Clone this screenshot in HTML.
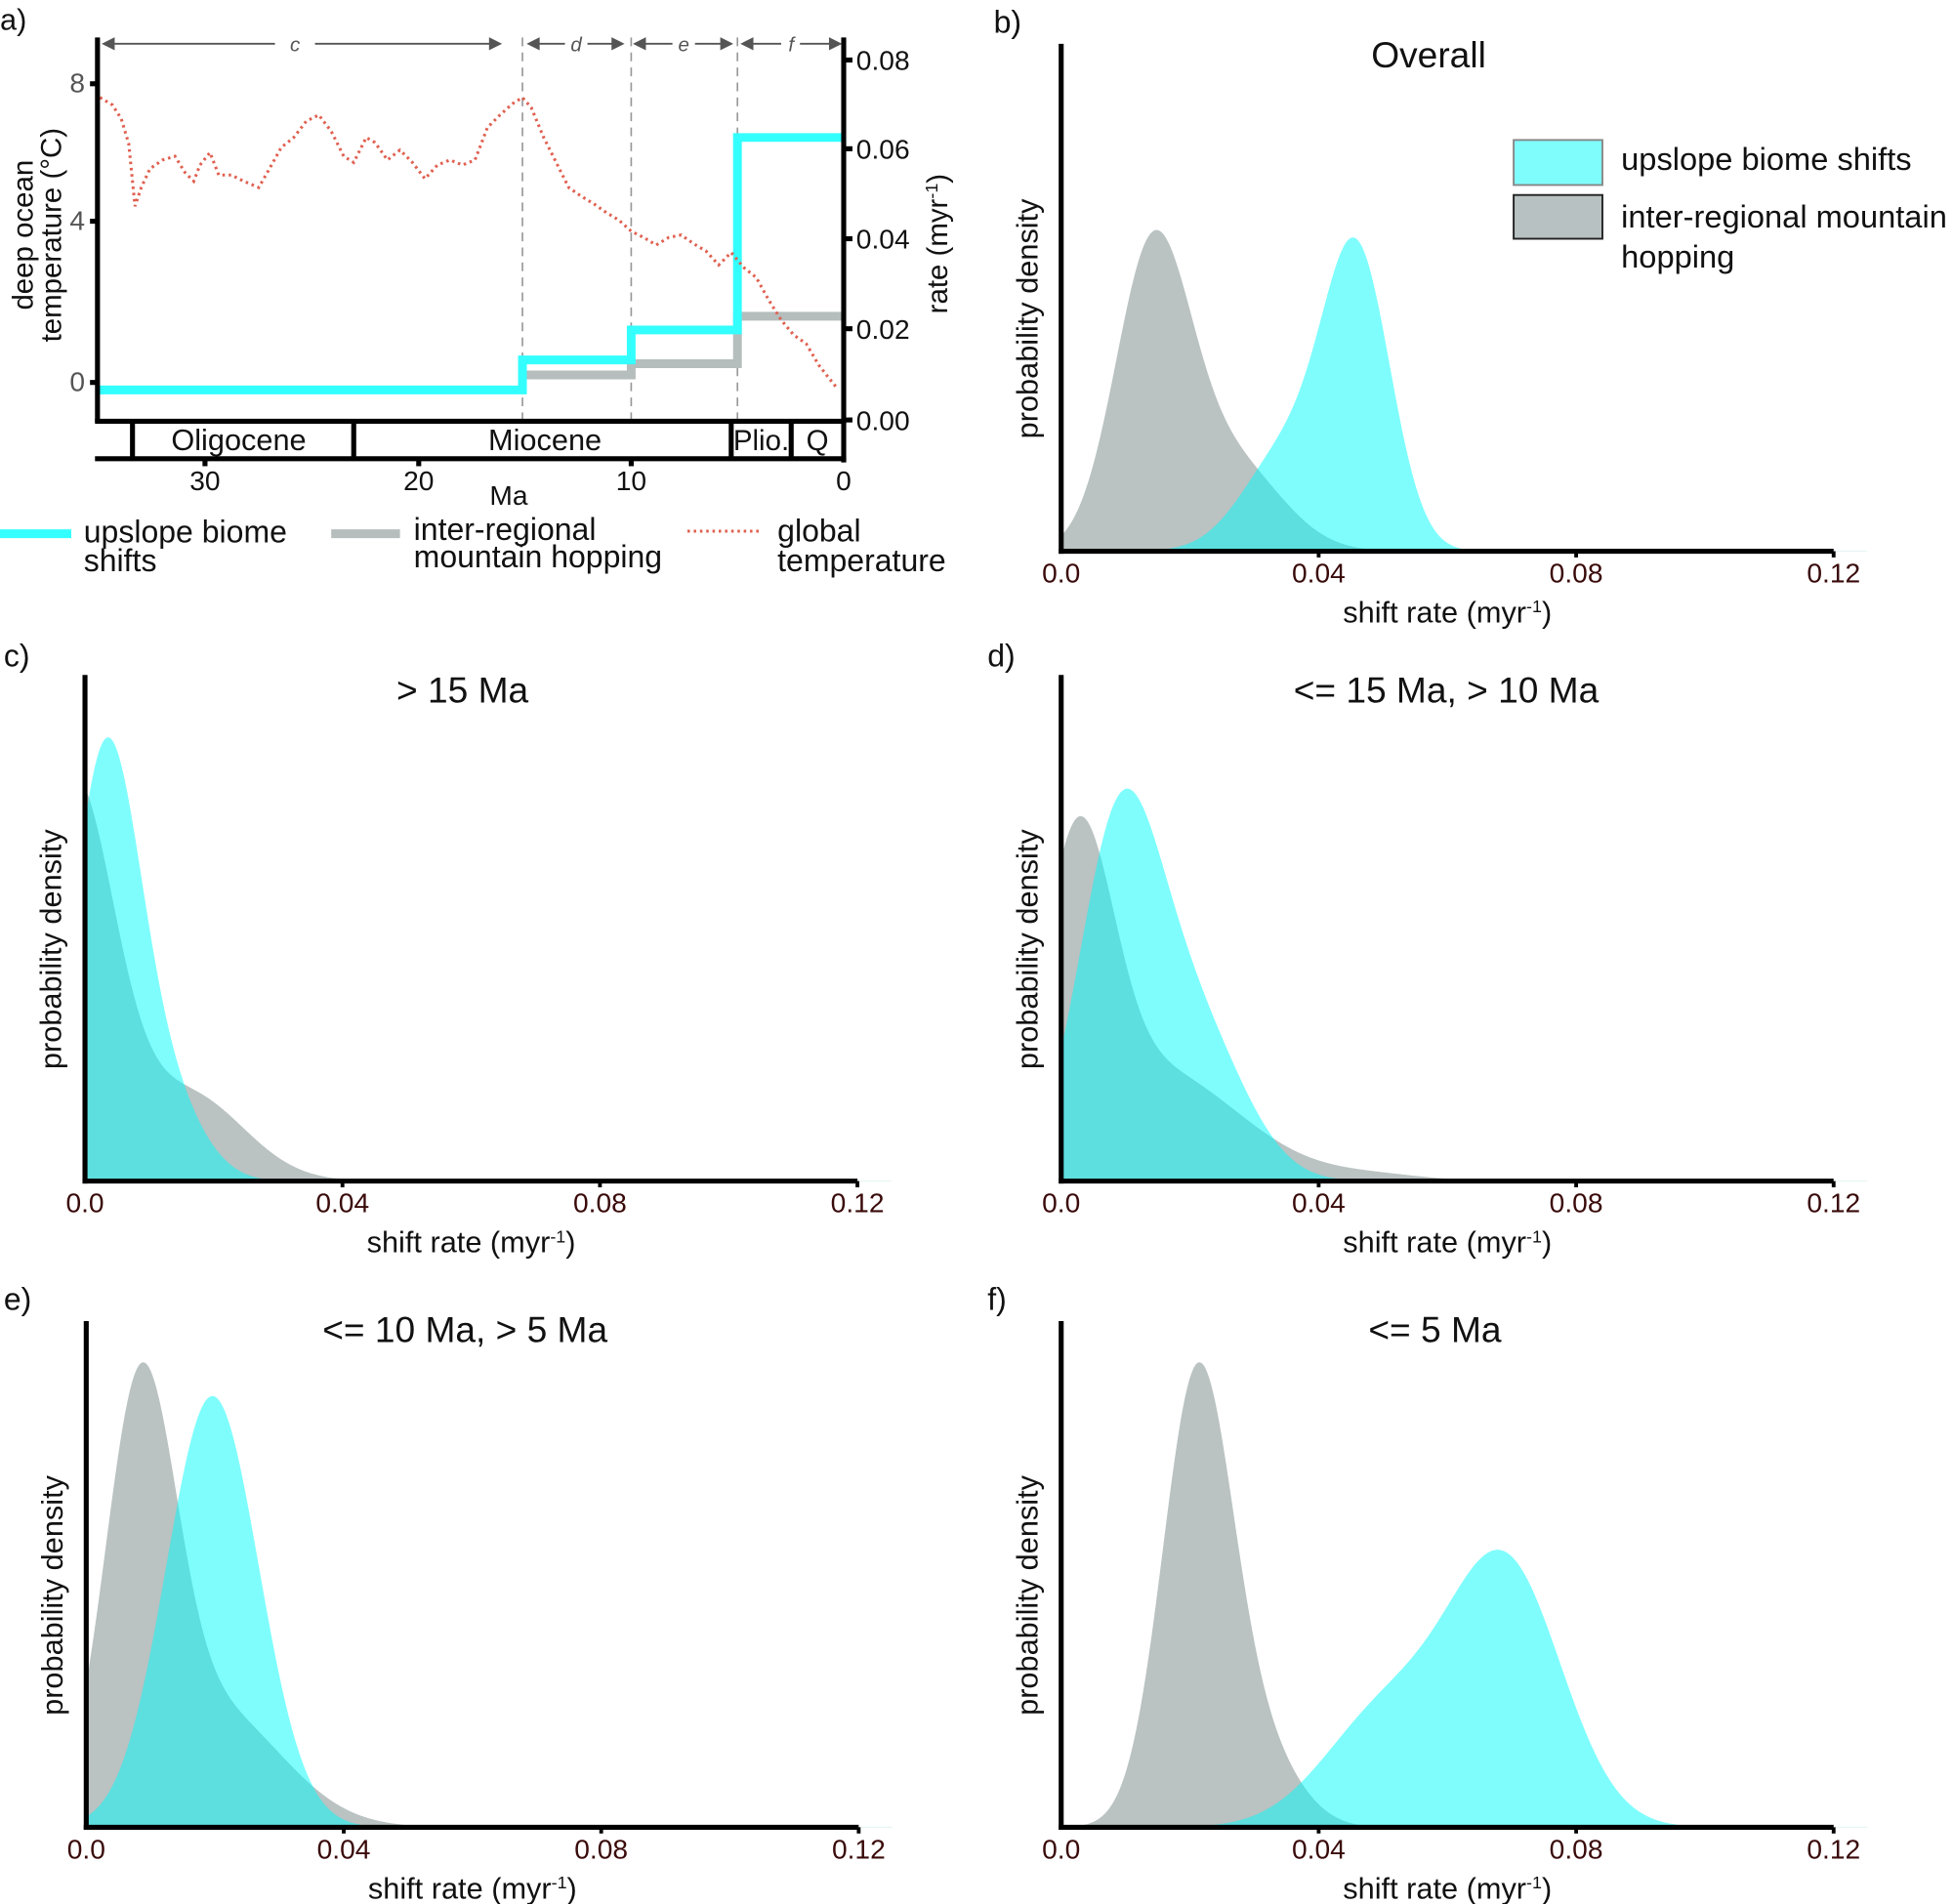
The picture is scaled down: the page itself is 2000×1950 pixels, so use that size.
<!DOCTYPE html>
<html><head><meta charset="utf-8">
<style>
html,body{margin:0;padding:0;background:#fff;}
svg{display:block;}
text{font-family:"Liberation Sans",sans-serif;fill:#111;}
</style></head>
<body>
<svg id="s" width="2000" height="1950" viewBox="0 0 1562.5 1523.4" xmlns="http://www.w3.org/2000/svg">
<g id="pa">
<text x="0" y="24" font-size="24">a)</text>
<g stroke="#999" stroke-width="1.3" stroke-dasharray="7,5">
<line x1="418" y1="30" x2="418" y2="337"/><line x1="505" y1="30" x2="505" y2="337"/><line x1="590" y1="30" x2="590" y2="337"/>
</g>
<g stroke="#555" stroke-width="1.5" fill="#555">
<line x1="85" y1="35" x2="220" y2="35"/><line x1="252" y1="35" x2="398" y2="35"/>
<line x1="425" y1="35" x2="452" y2="35"/><line x1="470" y1="35" x2="496" y2="35"/>
<line x1="510" y1="35" x2="538" y2="35"/><line x1="556" y1="35" x2="583" y2="35"/>
<line x1="596" y1="35" x2="625" y2="35"/><line x1="640" y1="35" x2="670" y2="35"/>
<path d="M83 35l8-4v8zM400 35l-8-4v8zM423 35l8-4v8zM498 35l-8-4v8zM508 35l8-4v8zM585 35l-8-4v8zM594 35l8-4v8zM672 35l-8-4v8z"/>
</g>
<g font-size="16" font-style="italic" text-anchor="middle">
<text x="236" y="41" style="fill:#555">c</text><text x="461" y="41" style="fill:#555">d</text><text x="547" y="41" style="fill:#555">e</text><text x="633" y="41" style="fill:#555">f</text>
</g>
<path d="M418 300H505V291H590V253H675" fill="none" stroke="#b5bdbd" stroke-width="7"/>
<path d="M78 312H418V288H505V264H590V110H675" fill="none" stroke="#33ffff" stroke-width="7"/>
<polyline fill="none" stroke="#e06050" stroke-width="2.4" stroke-dasharray="2,3" points="80,78 90,84 97,95 103,115 108,165 113,150 120,135 130,128 140,125 148,138 155,145 160,132 168,122 175,140 185,140 195,145 207,150 215,136 225,118 235,110 245,97 255,92 265,105 275,125 283,130 293,110 300,114 310,128 320,120 330,130 340,143 350,132 360,128 370,132 380,128 390,102 400,92 410,83 418,78 425,86 435,110 445,130 455,150 465,157 475,163 485,170 495,176 505,185 515,190 525,196 535,190 545,188 555,195 565,201 575,212 585,202 595,214 605,222 615,240 625,256 635,268 645,275 655,292 662,301 670,311"/>
<g stroke="#000" stroke-width="4" fill="none">
<line x1="78" y1="30" x2="78" y2="338"/>
<line x1="675" y1="30" x2="675" y2="370"/>
<line x1="76" y1="337" x2="677" y2="337"/>
<line x1="76" y1="367" x2="677" y2="367"/>
<line x1="106" y1="337" x2="106" y2="367"/><line x1="283" y1="337" x2="283" y2="367"/><line x1="585" y1="337" x2="585" y2="367"/><line x1="633" y1="337" x2="633" y2="367"/>
<line x1="164" y1="367" x2="164" y2="373"/><line x1="335" y1="367" x2="335" y2="373"/><line x1="505" y1="367" x2="505" y2="373"/>
<line x1="72" y1="67" x2="78" y2="67"/><line x1="72" y1="177" x2="78" y2="177"/><line x1="72" y1="306" x2="78" y2="306"/>
<line x1="675" y1="48" x2="682" y2="48"/><line x1="675" y1="119" x2="682" y2="119"/><line x1="675" y1="191" x2="682" y2="191"/><line x1="675" y1="263" x2="682" y2="263"/><line x1="675" y1="336" x2="682" y2="336"/>
</g>
<g font-size="22">
<text x="68" y="74" text-anchor="end" style="fill:#555">8</text><text x="68" y="184" text-anchor="end" style="fill:#555">4</text><text x="68" y="313" text-anchor="end" style="fill:#555">0</text>
</g>
<g font-size="22">
<text x="685" y="56">0.08</text><text x="685" y="127">0.06</text><text x="685" y="199">0.04</text><text x="685" y="271">0.02</text><text x="685" y="344">0.00</text>
<text x="191" y="360" text-anchor="middle" font-size="24">Oligocene</text><text x="436" y="360" text-anchor="middle" font-size="24">Miocene</text><text x="609" y="360" text-anchor="middle" font-size="23">Plio.</text><text x="654" y="360" text-anchor="middle" font-size="23">Q</text>
<text x="164" y="392" text-anchor="middle">30</text><text x="335" y="392" text-anchor="middle">20</text><text x="505" y="392" text-anchor="middle">10</text><text x="675" y="392" text-anchor="middle">0</text>
<text x="407" y="404" text-anchor="middle">Ma</text>
<text transform="translate(26,188) rotate(-90)" text-anchor="middle" font-size="23">deep ocean</text>
<text transform="translate(49,188) rotate(-90)" text-anchor="middle" font-size="23">temperature (°C)</text>
<text transform="translate(758,195) rotate(-90)" text-anchor="middle" font-size="23">rate (myr<tspan font-size="14" dy="-8">-1</tspan><tspan dy="8">)</tspan></text>
</g>
<line x1="0" y1="427" x2="57" y2="427" stroke="#33ffff" stroke-width="7"/>
<line x1="265" y1="427" x2="320" y2="427" stroke="#b5bdbd" stroke-width="7"/>
<line x1="550" y1="425" x2="608" y2="425" stroke="#e06050" stroke-width="2.4" stroke-dasharray="2,3"/>
<g font-size="25">
<text x="67" y="434">upslope biome</text><text x="67" y="457">shifts</text>
<text x="331" y="432">inter-regional</text><text x="331" y="454">mountain hopping</text>
<text x="622" y="433">global</text><text x="622" y="457">temperature</text>
</g>
</g>
<g id="dens"></g>
<g font-size="25">
<text x="795" y="26">b)</text><text x="3" y="533">c)</text><text x="790" y="533">d)</text><text x="3" y="1048">e)</text><text x="790" y="1048">f)</text>
</g>
<g font-size="29" text-anchor="middle">
<text x="1143" y="54">Overall</text><text x="370" y="562">&gt; 15 Ma</text><text x="1157" y="562">&lt;= 15 Ma, &gt; 10 Ma</text><text x="372" y="1074">&lt;= 10 Ma, &gt; 5 Ma</text><text x="1148" y="1074">&lt;= 5 Ma</text>
</g>
<rect x="1211" y="112" width="71" height="36" fill="#7ffdfd" stroke="#888" stroke-width="1.5"/>
<rect x="1211" y="156" width="71" height="35" fill="#b8c1c1" stroke="#222" stroke-width="1.5"/>
<g font-size="25.5"><text x="1297" y="136">upslope biome shifts</text><text x="1297" y="182">inter-regional mountain</text><text x="1297" y="214">hopping</text></g>
</svg>
<script>
var NS="http://www.w3.org/2000/svg",g=document.getElementById("dens");
function el(t,a,txt){var e=document.createElementNS(NS,t);for(var k in a)e.setAttribute(k,a[k]);if(txt!==undefined)e.innerHTML=txt;g.appendChild(e);return e;}
function curve(x0,base,peakY,comps,fill,op){var xs=[],ys=[],m=0;for(var x=x0;x<=x0+620;x+=1){var v=0;comps.forEach(function(c){v+=c[2]*Math.exp(-Math.pow((x-c[0])/c[1],2)/2);});xs.push(x);ys.push(v);if(v>m)m=v;}
var h=base-peakY,d="M"+x0+" "+base;for(var i=0;i<xs.length;i++){d+="L"+xs[i]+" "+(base-ys[i]/m*h).toFixed(2);}d+="L"+(x0+620)+" "+base+"Z";el("path",{d:d,fill:fill,"fill-opacity":op});}
function panel(x0,top,base,gray,cyan){
curve(x0,base,gray[0],gray[1],"#a9b3b3",0.8);curve(x0,base,cyan[0],cyan[1],"#00fcfc",0.5);
el("line",{x1:x0,y1:top,x2:x0,y2:base+2,stroke:"#000","stroke-width":4});
el("line",{x1:x0-2,y1:base,x2:x0+618,y2:base,stroke:"#000","stroke-width":4});
el("line",{x1:x0+618,y1:base,x2:x0+645,y2:base,stroke:"#e8f4f4","stroke-width":1});
var lab=["0.0","0.04","0.08","0.12"];for(var i=0;i<4;i++){var tx=x0+i*206;if(i>0)el("line",{x1:tx,y1:base,x2:tx,y2:base+5,stroke:"#000","stroke-width":3});
el("text",{x:tx,y:base+25,"font-size":22,"text-anchor":"middle",style:"fill:#3a0a0a"},lab[i]);}
el("text",{x:x0+309,y:base+57,"font-size":24,"text-anchor":"middle"},'shift rate (myr<tspan font-size="14" dy="-8">-1</tspan><tspan dy="8">)</tspan>');
el("text",{transform:"translate("+(x0-19)+","+((top+base)/2+17)+") rotate(-90)","font-size":24,"text-anchor":"middle"},"probability density");}
panel(849,35,441,[184,[[922,30,1],[985,40,0.3]]],[190,[[1086,27,1],[1030,35,0.35]]]);
panel(68,540,945,[630,[[58,33,1],[150,45,0.22]]],[590,[[84,27,1],[130,30,0.2]]]);
panel(849,540,945,[653,[[862,28,1],[920,70,0.4],[1100,40,0.02]]],[631,[[895,33,1],[955,40,0.45]]]);
panel(69,1057,1462,[1090,[[112,28,1],[170,55,0.3]]],[1117,[[170,37,1]]]);
panel(849,1057,1462,[1090,[[958,28,1],[1010,30,0.15]]],[1240,[[1205,45,1],[1110,50,0.45]]]);
</script>
</body></html>
